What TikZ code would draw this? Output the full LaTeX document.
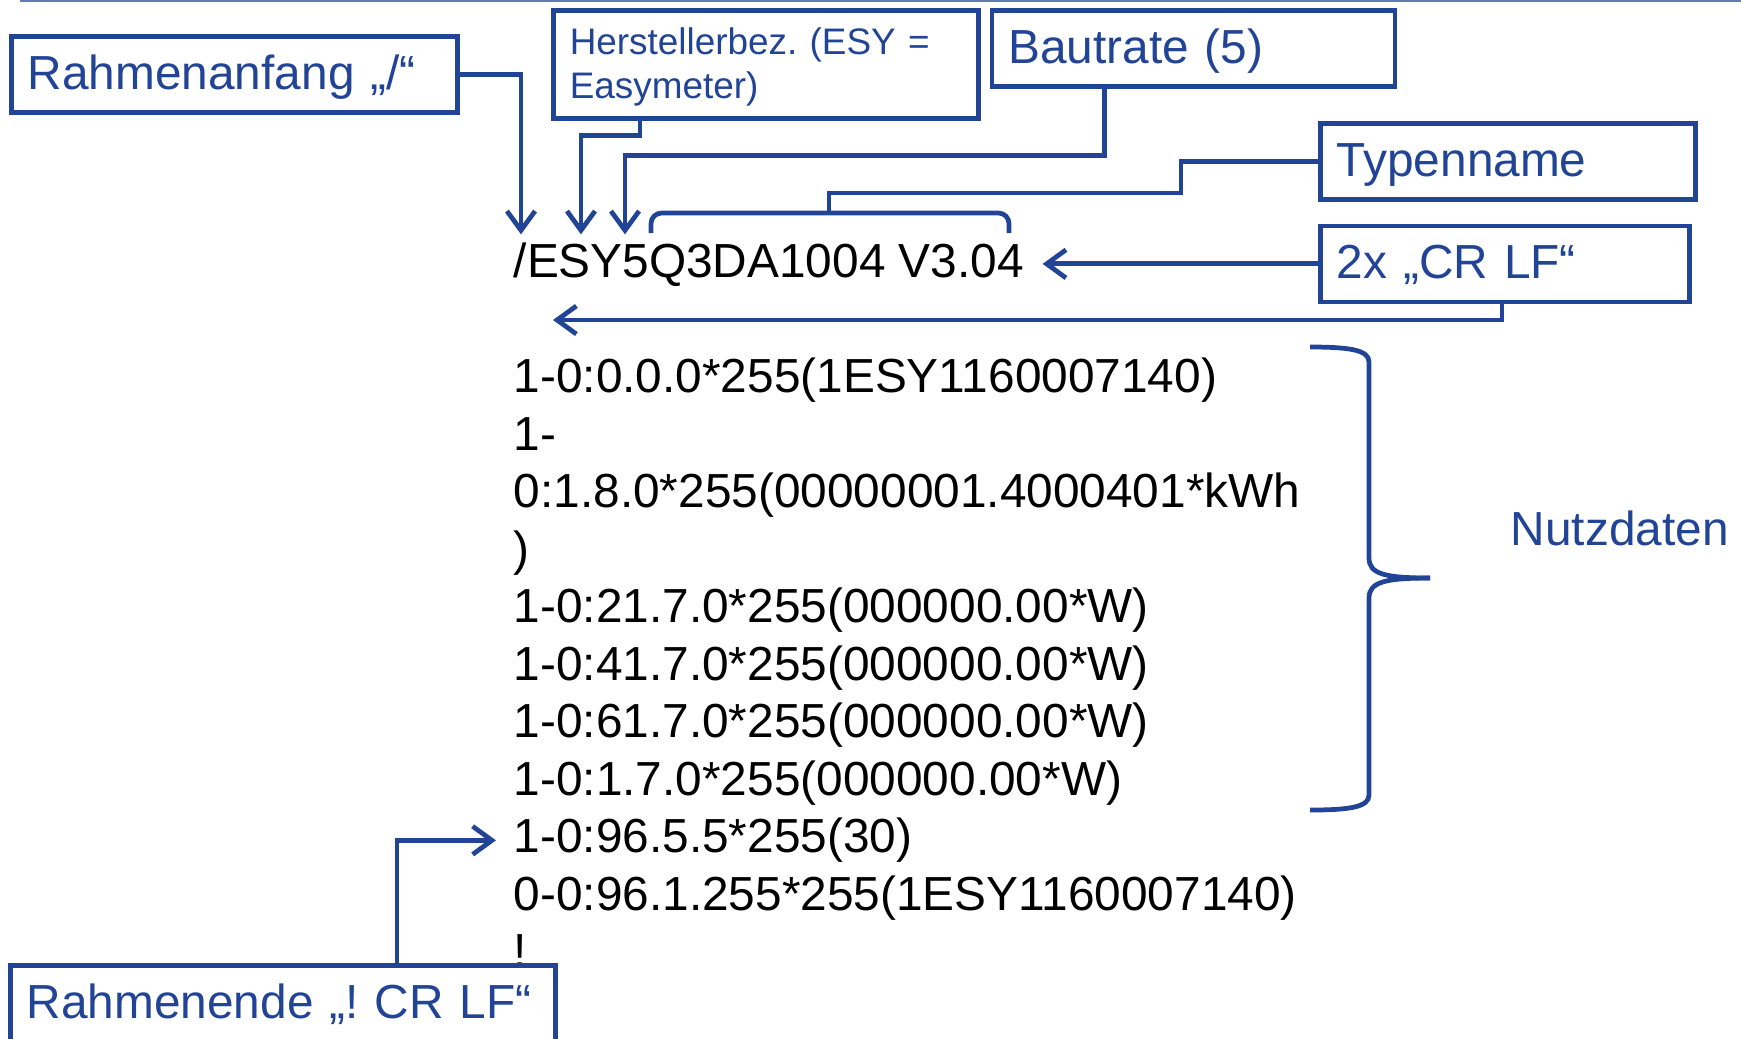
\documentclass[tikz,border=0pt]{standalone}
\usepackage{fontspec}
\setmainfont{Liberation Sans}
\usetikzlibrary{arrows.meta,positioning}
\definecolor{obisblue}{RGB}{33,68,150}
\frenchspacing

\begin{document}
\begin{tikzpicture}[
		>={Straight Barb[length=5.5pt,width=8pt]},
		tag/.style={
			draw=obisblue,
			fill=white,
			line width=1.3pt,
			text=obisblue,
			font=\fontsize{13.6pt}{16.3pt}\selectfont,
			align=left,
			anchor=north west,
			inner xsep=0.165cm,
			inner ysep=0pt,
			minimum height=0.76cm,
			text height=1.06em,
			text depth=0.22em
		},
		telegram/.style={
			font=\fontsize{13.6pt}{16.3pt}\selectfont,
			inner sep=0pt,
			anchor=base west
		},
		link/.style={
			draw=obisblue,
			line width=1.35pt
		},
		arrow/.style={
			link,
			->
		}
	]
	\useasboundingbox (0,0) rectangle (17.41,-10.38);

	\draw[obisblue!70, line width=0.7pt] (0.20,-0.01) -- (17.41,-0.01);

	% Telegramm
	\node[telegram] (header) at (5.13,-2.777) {/ESY5Q3DA1004 V3.04};
	\coordinate (gap) at (5.53,-3.20);
	\foreach \txt [count=\i] in {{1-0:0.0.0*255(1ESY1160007140)},{1-},
			{0:1.8.0*255(00000001.4000401*kWh},{)},
			{1-0:21.7.0*255(000000.00*W)},{1-0:41.7.0*255(000000.00*W)},
			{1-0:61.7.0*255(000000.00*W)},{1-0:1.7.0*255(000000.00*W)},
			{1-0:96.5.5*255(30)},{0-0:96.1.255*255(1ESY1160007140)},{!}}
		\node[telegram] (line\i) at (5.13,{-3.927-0.575*(\i-1)}) {\txt};

	% Beschriftungen
	\node[tag, text width=4.13cm] (anfang) at (0.09,-0.34) {Rahmenanfang „/“};
	\node[tag, text width=3.92cm, minimum height=1.08cm,
		font=\fontsize{10.5pt}{12.4pt}\selectfont,
		text height={}, text depth={}] (hersteller) at (5.51,-0.08)
		{\rule{0pt}{0.87em}Herstellerbez. (ESY =\\Easymeter)};
	\node[tag, text width=3.70cm,
		right=0.09cm of hersteller.north east, anchor=north west] (bautrate)
		{Bautrate (5)};
	\node[tag, text width=3.42cm] (typ) at (13.18,-1.21) {Typenname};
	\node[tag, text width=3.36cm,
		below=0.22cm of typ.south west, anchor=north west] (crlf)
		{2x „CR LF“};
	\node[tag, text width=5.12cm] (ende) at (0.08,-9.63) {Rahmenende „! CR LF“};

	\node[telegram, text=obisblue] (nutz) at (15.10,-5.45) {Nutzdaten};

	% Pfeile
	\draw[arrow, shorten >=0.08cm] (anfang.east)
		-| ([xshift=0.08cm]header.north west);
	\draw[arrow, shorten >=0.08cm] ([xshift=0.89cm]hersteller.south west)
		-- ++(0,-0.15) -| ([xshift=0.68cm]header.north west);
	\draw[arrow, shorten >=0.08cm] ([xshift=1.15cm]bautrate.south west)
		-- ++(0,-0.67) -| ([xshift=1.12cm]header.north west);

	\coordinate (typbr) at (8.29,-2.13);
	\draw[link] (typ.west) -| (11.81,-1.93) -| (typbr);
	\draw[link, rounded corners=3pt] (6.51,-2.33) |- (typbr) -| (10.09,-2.33);

	\draw[arrow, shorten >=0.18cm] (crlf.west) -- (crlf.west -| header.east);
	\draw[arrow] ([xshift=1.84cm]crlf.south west) |- (gap);

	\draw[arrow, shorten >=0.17cm] ([xshift=3.89cm]ende.north west) |- (line9.west);

	% Klammer
	\draw[link] (13.10,-3.47) .. controls (13.50,-3.47) and (13.69,-3.50) .. (13.69,-3.62)
		-- (13.69,-5.58) .. controls (13.69,-5.74) and (13.85,-5.78) .. (14.30,-5.78);
	\draw[link] (14.30,-5.78) .. controls (13.85,-5.78) and (13.69,-5.82) .. (13.69,-5.98)
		-- (13.69,-7.95) .. controls (13.69,-8.07) and (13.50,-8.10) .. (13.10,-8.10);
\end{tikzpicture}
\end{document}
